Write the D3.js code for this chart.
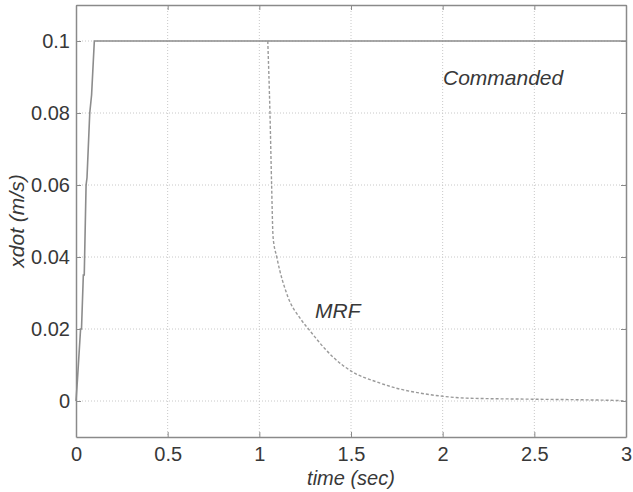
<!DOCTYPE html>
<html><head><meta charset="utf-8">
<script src="https://cdn.jsdelivr.net/npm/d3@7"></script>
<style>body{margin:0;background:#fff}svg{display:block}text{font-family:"Liberation Sans",Arial,sans-serif;fill:#383838}</style>
</head><body><svg id="c" width="633" height="492"></svg>
<script>
const xTicks = [0, 0.5, 1, 1.5, 2, 2.5, 3];
const xTickLabels = ["0", "0.5", "1", "1.5", "2", "2.5", "3"];
const yTicks = [0, 0.02, 0.04, 0.06, 0.08, 0.1];
const yTickLabels = ["0", "0.02", "0.04", "0.06", "0.08", "0.1"];
const commandedT = [0, 0.008, 0.025, 0.03, 0.04, 0.045, 0.055, 0.06, 0.075, 0.085, 0.1, 3];
const commandedV = [0, 0.006, 0.02, 0.02, 0.035, 0.035, 0.06, 0.062, 0.08, 0.085, 0.1, 0.1];
const mrfT = [1.046, 1.058, 1.067, 1.075, 1.095, 1.156, 1.225, 1.276, 1.358, 1.402, 1.511, 1.64, 1.767, 1.876, 1.985, 2.13, 2.49, 2.8, 2.97, 3];
const mrfV = [0.1, 0.08, 0.06, 0.0455, 0.04, 0.0289, 0.0228, 0.0195, 0.0145, 0.0122, 0.008, 0.0053, 0.0033, 0.0022, 0.0014, 0.0008, 0.0005, 0.0003, 0.0001, 0];

const svg = d3.select("#c");
const L = 76, R = 626, T = 5, B = 437;
const x = d3.scaleLinear().domain([0, 3]).range([L, R]);
const y = d3.scaleLinear().domain([-0.01, 0.11]).range([B, T]);
const axisCol = "#8a8a8a";
const font = '"Liberation Sans",Arial,sans-serif';

// grid
const g = svg.append("g");
g.selectAll(".gx").data(xTicks.slice(1, -1)).join("line")
  .attr("x1", d => x(d)).attr("x2", d => x(d)).attr("y1", T).attr("y2", B)
  .attr("stroke", "#c8c8c8").attr("stroke-width", 1).attr("stroke-dasharray", "1,2");
g.selectAll(".gy").data(yTicks).join("line")
  .attr("y1", d => y(d)).attr("y2", d => y(d)).attr("x1", L).attr("x2", R)
  .attr("stroke", "#c8c8c8").attr("stroke-width", 1).attr("stroke-dasharray", "1,2");

// axes
const xa = svg.append("g").attr("transform", `translate(0,${B})`)
  .call(d3.axisBottom(x).tickValues(xTicks).tickFormat((d, i) => xTickLabels[i]).tickSizeInner(-5).tickSizeOuter(0).tickPadding(10));
const xt = svg.append("g").attr("transform", `translate(0,${T})`)
  .call(d3.axisTop(x).tickValues(xTicks).tickFormat("").tickSizeInner(-5).tickSizeOuter(0));
const ya = svg.append("g").attr("transform", `translate(${L},0)`)
  .call(d3.axisLeft(y).tickValues(yTicks).tickFormat((d, i) => yTickLabels[i]).tickSizeInner(-5).tickSizeOuter(0).tickPadding(6));
const yr = svg.append("g").attr("transform", `translate(${R},0)`)
  .call(d3.axisRight(y).tickValues(yTicks).tickFormat("").tickSizeInner(-5).tickSizeOuter(0));
[xa, xt, ya, yr].forEach(a => {
  a.select(".domain").attr("stroke", axisCol).attr("stroke-width", 1.5);
  a.selectAll(".tick line").attr("stroke", axisCol);
  a.selectAll(".tick text").attr("font-size", 20).attr("fill", "#383838").attr("font-family", font);
});

// lines
const line = d3.line().x(d => x(d[0])).y(d => y(d[1]));
svg.append("path").datum(commandedT.map((t, i) => [t, commandedV[i]]))
  .attr("d", line).attr("fill", "none").attr("stroke", "#8c8c8c").attr("stroke-width", 1.6);
svg.append("path").datum(mrfT.map((t, i) => [t, mrfV[i]]))
  .attr("d", d3.line().curve(d3.curveMonotoneX).x(d => x(d[0])).y(d => y(d[1])))
  .attr("fill", "none").attr("stroke", "#9a9a9a").attr("stroke-width", 1.4).attr("stroke-dasharray", "3,2");

// labels
svg.append("text").attr("x", 443).attr("y", 85).attr("font-size", 21).attr("font-style", "italic").text("Commanded");
svg.append("text").attr("x", 315).attr("y", 318).attr("font-size", 21).attr("font-style", "italic").text("MRF");
svg.append("text").attr("x", (L + R) / 2).attr("y", 485).attr("text-anchor", "middle").attr("font-size", 20).attr("font-style", "italic").text("time (sec)");
svg.append("text").attr("transform", `translate(24,${(T + B) / 2}) rotate(-90)`).attr("text-anchor", "middle").attr("font-size", 21).attr("font-style", "italic").text("xdot (m/s)");
</script></body></html>
